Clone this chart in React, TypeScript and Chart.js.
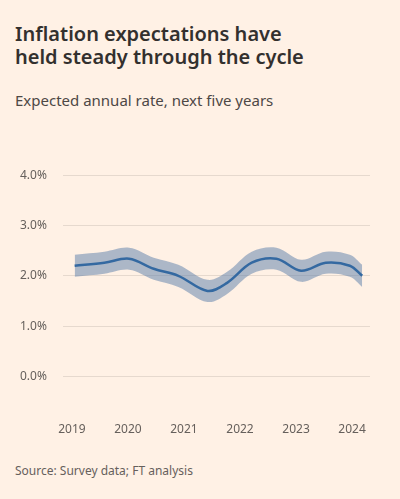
import React, { useEffect, useRef } from "react";
import { Chart, registerables } from "chart.js";

Chart.register(...registerables);

const title = "Inflation expectations have held steady through the cycle";
const subtitle = "Expected annual rate, next five years";
const source = "Source: Survey data; FT analysis";

const yearTicks = [2019, 2020, 2021, 2022, 2023, 2024];
const yTicks = [0, 1, 2, 3, 4];

const periods = [2019.05, 2019.58, 2020.02, 2020.46, 2020.9, 2021.42, 2021.77, 2022.21, 2022.65, 2023.09, 2023.53, 2023.96, 2024.18];
const central = [2.2, 2.26, 2.34, 2.14, 2.0, 1.7, 1.86, 2.26, 2.34, 2.1, 2.26, 2.2, 2.0];
const upper = [2.42, 2.48, 2.56, 2.36, 2.22, 1.92, 2.08, 2.48, 2.56, 2.32, 2.48, 2.42, 2.22];
const lower = [1.98, 2.04, 2.12, 1.92, 1.78, 1.48, 1.64, 2.04, 2.12, 1.88, 2.04, 1.98, 1.78];

export default function App() {
  const ref = useRef<HTMLCanvasElement | null>(null);

  useEffect(() => {
    document.body.style.margin = "0";
    document.body.style.background = "#fff1e5";
    const ctx = ref.current;
    if (!ctx) return;
    const toXY = (vals: number[]) => vals.map((v, i) => ({ x: periods[i], y: v }));
    const chart = new Chart(ctx, {
      type: "line",
      data: {
        datasets: [
          {
            data: toXY(upper),
            borderWidth: 0,
            pointRadius: 0,
            fill: "+1",
            backgroundColor: "rgba(90,125,170,0.5)",
            tension: 0.35,
          },
          {
            data: toXY(lower),
            borderWidth: 0,
            pointRadius: 0,
            fill: false,
            tension: 0.35,
          },
          {
            data: toXY(central),
            borderColor: "#0f5499",
            borderWidth: 2.5,
            pointRadius: 0,
            fill: false,
            tension: 0.35,
          },
        ],
      },
      options: {
        animation: false,
        responsive: false,
        maintainAspectRatio: false,
        layout: { padding: { left: 20, right: 30, top: 8, bottom: 0 } },
        plugins: { legend: { display: false }, tooltip: { enabled: false } },
        scales: {
          x: {
            type: "linear",
            min: 2018.84,
            max: 2024.32,
            afterBuildTicks: (axis: any) => {
              axis.ticks = yearTicks.map((v) => ({ value: v }));
            },
            grid: { display: false },
            border: { display: false },
            ticks: {
              color: "#66605c",
              font: { family: "'Noto Sans'", size: 12 },
              padding: 8,
              callback: (v: any) => String(v),
            },
          },
          y: {
            min: -0.6,
            max: 4,
            afterBuildTicks: (axis: any) => {
              axis.ticks = yTicks.map((v) => ({ value: v }));
            },
            grid: { color: "#e6d9ce", drawTicks: false },
            border: { display: false },
            ticks: {
              color: "#66605c",
              font: { family: "'Noto Sans'", size: 12 },
              padding: 8,
              crossAlign: "far",
              callback: (v: any) => Number(v).toFixed(1) + "%",
            },
          },
        },
      },
    });
    return () => chart.destroy();
  }, []);

  return (
    <div style={{ position: "relative", width: 400, height: 499, background: "#fff1e5", fontFamily: "'Noto Sans', sans-serif", overflow: "hidden" }}>
      <div style={{ position: "absolute", left: 15, top: 22, width: 300, fontSize: 20, lineHeight: "23px", fontWeight: 600, color: "#33302e" }}>
        {title}
      </div>
      <div style={{ position: "absolute", left: 15, top: 90, width: 300, fontSize: 15, lineHeight: "20px", color: "#4d4845" }}>
        {subtitle}
      </div>
      <canvas ref={ref} width={400} height={285} style={{ position: "absolute", left: 0, top: 160, width: 400, height: 285 }} />
      <div style={{ position: "absolute", left: 15, top: 462, fontSize: 12, color: "#66605c" }}>
        {source}
      </div>
    </div>
  );
}
